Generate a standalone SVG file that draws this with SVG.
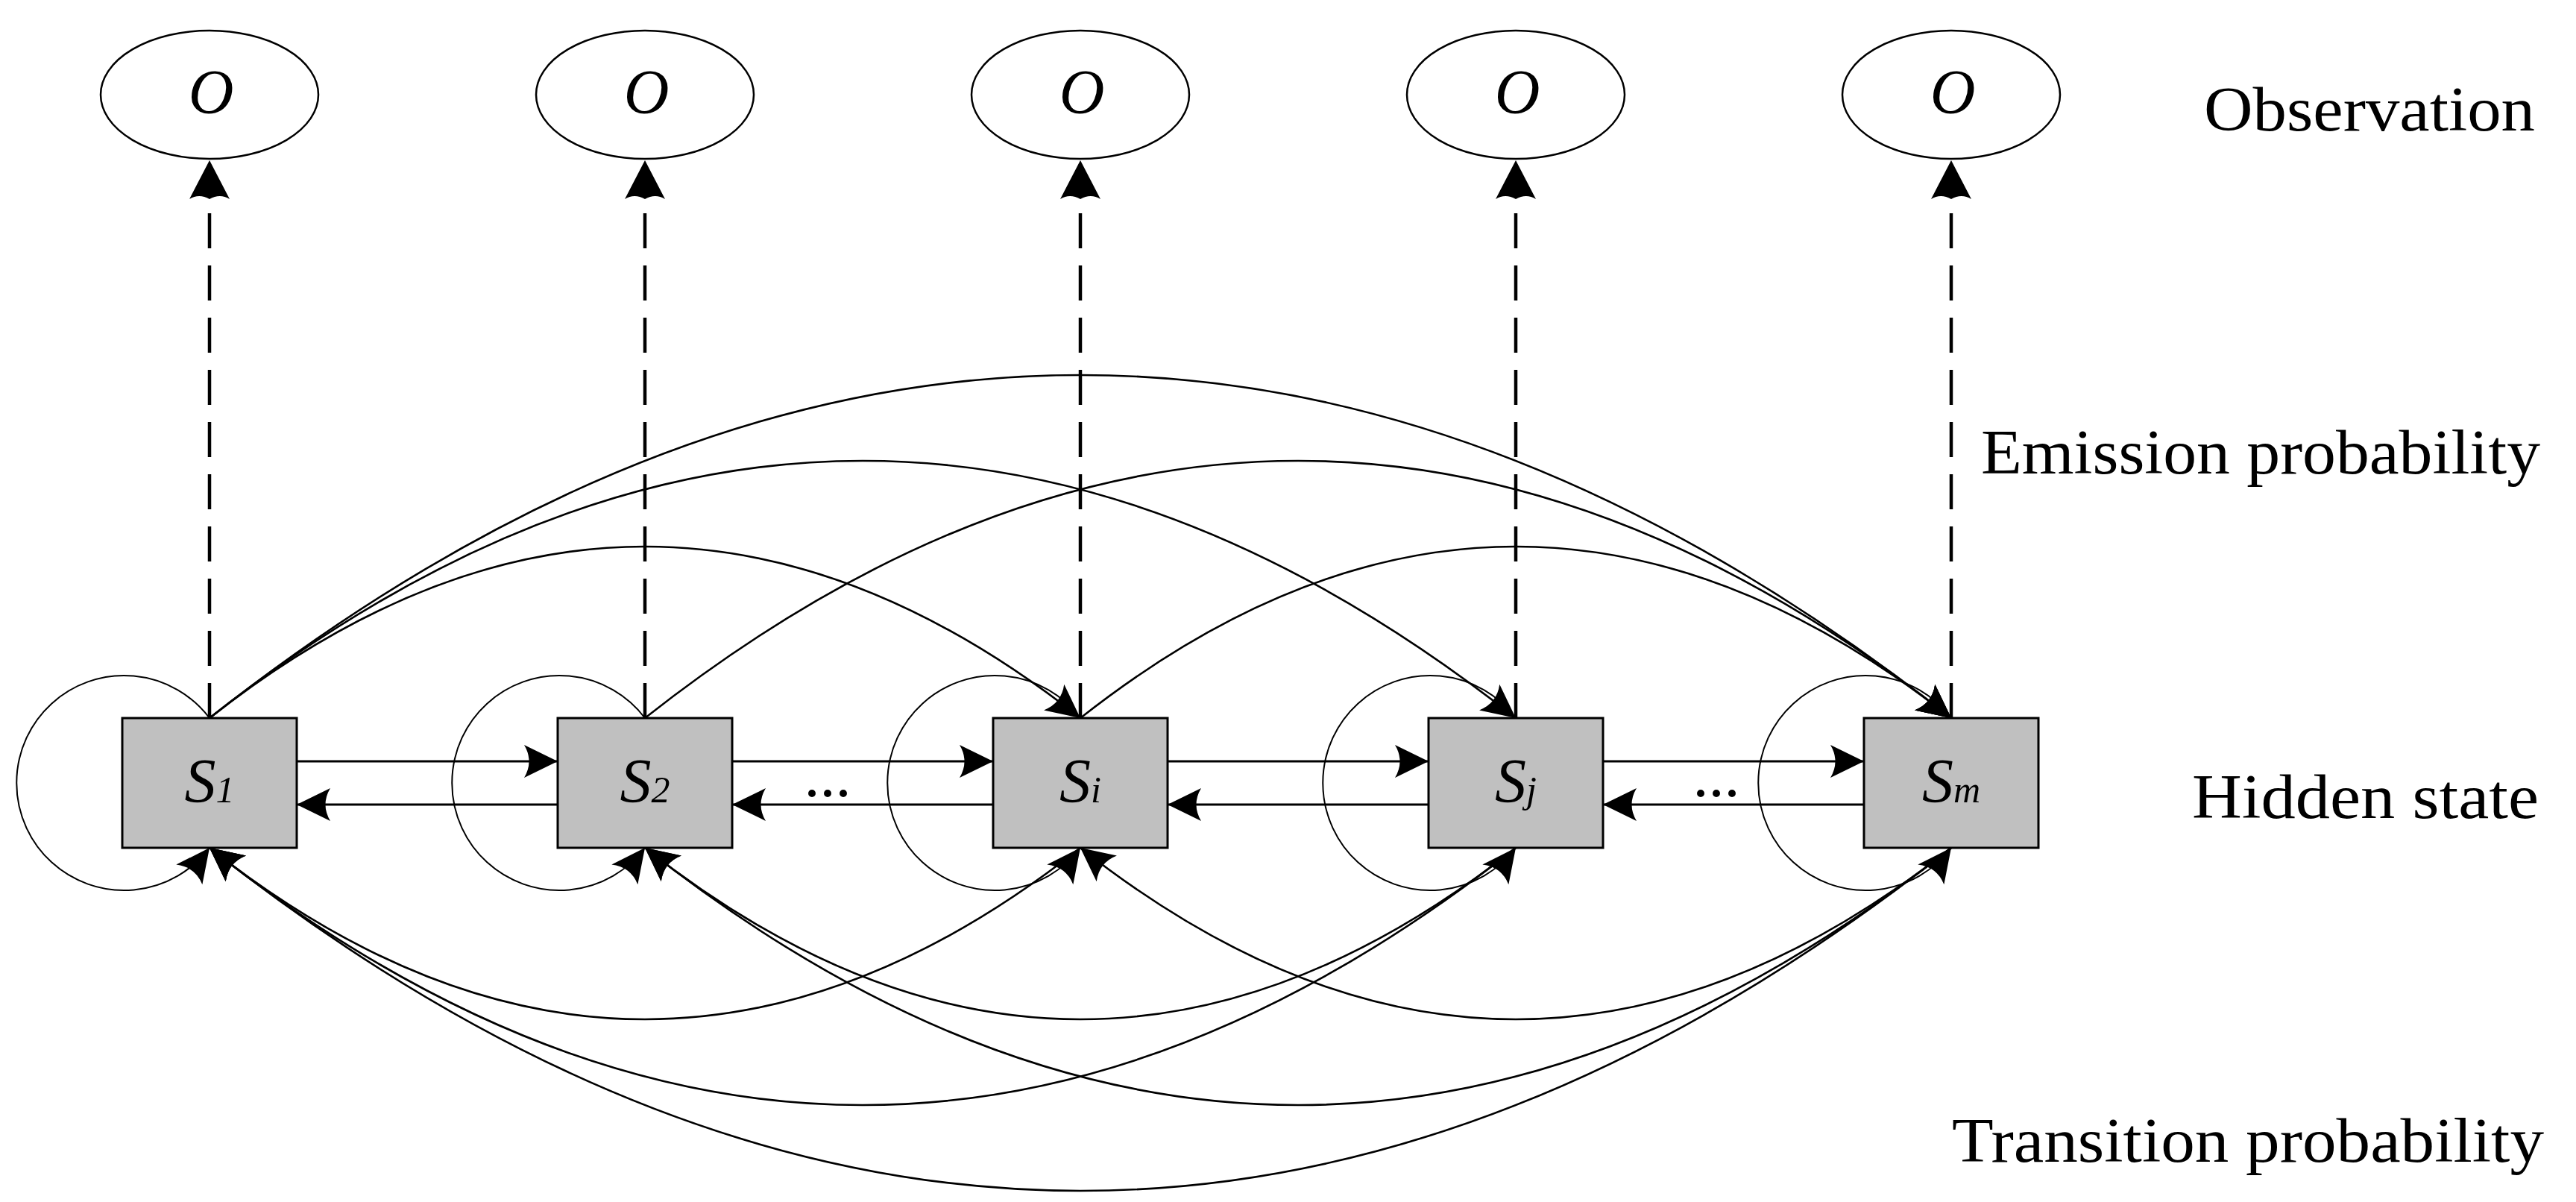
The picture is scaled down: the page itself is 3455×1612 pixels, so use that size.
<svg xmlns="http://www.w3.org/2000/svg" width="3455" height="1612" viewBox="0 0 3455 1612">
<style>
.box{fill:#c0c0c0;stroke:#000;stroke-width:3}
.obs{fill:#fff;stroke:#000;stroke-width:2.5}
.lbl{font-family:"Liberation Serif",serif;font-style:italic;font-size:84px;fill:#000}
.sub{font-size:50px}
.cap{font-family:"Liberation Serif",serif;font-size:84px;fill:#000}
.emit{fill:none;stroke:#000;stroke-width:4.5;stroke-dasharray:47 23;marker-end:url(#ahE)}
.arc{fill:none;stroke:#000;stroke-width:2.6;marker-end:url(#ah)}
.loop{fill:none;stroke:#000;stroke-width:2;marker-end:url(#ah)}
.harr{fill:none;stroke:#000;stroke-width:3;marker-end:url(#ah)}
</style>
<defs>
<marker id="ah" markerUnits="userSpaceOnUse" markerWidth="50" markerHeight="50" refX="45" refY="22" orient="auto" overflow="visible">
<path d="M45,22 L0,0 Q13,22 0,44 Z" fill="#000"/>
</marker>
<marker id="ahE" markerUnits="userSpaceOnUse" markerWidth="60" markerHeight="60" refX="2" refY="27" orient="auto" overflow="visible">
<path d="M52,27 L0,0 Q8,13 0,27 Q8,41 0,54 Z" fill="#000"/>
</marker>
</defs>

<g id="connectors">
<!-- emission (dashed) -->
<path class="emit" d="M281,963 V265"/>
<path class="emit" d="M865,963 V265"/>
<path class="emit" d="M1449,963 V265"/>
<path class="emit" d="M2033,963 V265"/>
<path class="emit" d="M2617,963 V265"/>
<!-- self loops -->
<path class="loop" d="M281,963 A144,144 0 1 0 281,1137"/>
<path class="loop" d="M865,963 A144,144 0 1 0 865,1137"/>
<path class="loop" d="M1449,963 A144,144 0 1 0 1449,1137"/>
<path class="loop" d="M2033,963 A144,144 0 1 0 2033,1137"/>
<path class="loop" d="M2617,963 A144,144 0 1 0 2617,1137"/>
<!-- adjacent forward / backward -->
<path class="harr" d="M398,1021 H748"/>
<path class="harr" d="M748,1079 H398"/>
<path class="harr" d="M982,1021 H1332"/>
<path class="harr" d="M1332,1079 H982"/>
<path class="harr" d="M1566,1021 H1916"/>
<path class="harr" d="M1916,1079 H1566"/>
<path class="harr" d="M2150,1021 H2500"/>
<path class="harr" d="M2500,1079 H2150"/>
<!-- upper arcs -->
<path class="arc" d="M281,963 Q1449,43 2617,963"/>
<path class="arc" d="M281,963 Q1157,273 2033,963"/>
<path class="arc" d="M865,963 Q1741,273 2617,963"/>
<path class="arc" d="M281,963 Q865,503 1449,963"/>
<path class="arc" d="M1449,963 Q2033,503 2617,963"/>
<!-- lower arcs -->
<path class="arc" d="M2617,1137 Q1449,2057 281,1137"/>
<path class="arc" d="M2033,1137 Q1157,1827 281,1137"/>
<path class="arc" d="M2617,1137 Q1741,1827 865,1137"/>
<path class="arc" d="M1449,1137 Q865,1597 281,1137"/>
<path class="arc" d="M2033,1137 Q1449,1597 865,1137"/>
<path class="arc" d="M2617,1137 Q2033,1597 1449,1137"/>
<text class="lbl" style="font-style:normal" font-size="72" x="1110" y="1068" text-anchor="middle">...</text>
<text class="lbl" style="font-style:normal" font-size="72" x="2302" y="1068" text-anchor="middle">...</text>
</g>

<g id="obs1"><ellipse class="obs" cx="281" cy="127" rx="146" ry="86"/><text class="lbl" x="283" y="152" text-anchor="middle">O</text></g>
<g id="obs2"><ellipse class="obs" cx="865" cy="127" rx="146" ry="86"/><text class="lbl" x="867" y="152" text-anchor="middle">O</text></g>
<g id="obs3"><ellipse class="obs" cx="1449" cy="127" rx="146" ry="86"/><text class="lbl" x="1451" y="152" text-anchor="middle">O</text></g>
<g id="obs4"><ellipse class="obs" cx="2033" cy="127" rx="146" ry="86"/><text class="lbl" x="2035" y="152" text-anchor="middle">O</text></g>
<g id="obs5"><ellipse class="obs" cx="2617" cy="127" rx="146" ry="86"/><text class="lbl" x="2619" y="152" text-anchor="middle">O</text></g>

<g id="s1"><rect class="box" x="164" y="963" width="234" height="174"/><text class="lbl" x="281" y="1076" text-anchor="middle">S<tspan class="sub">1</tspan></text></g>
<g id="s2"><rect class="box" x="748" y="963" width="234" height="174"/><text class="lbl" x="865" y="1076" text-anchor="middle">S<tspan class="sub">2</tspan></text></g>
<g id="si"><rect class="box" x="1332" y="963" width="234" height="174"/><text class="lbl" x="1449" y="1076" text-anchor="middle">S<tspan class="sub">i</tspan></text></g>
<g id="sj"><rect class="box" x="1916" y="963" width="234" height="174"/><text class="lbl" x="2033" y="1076" text-anchor="middle">S<tspan class="sub">j</tspan></text></g>
<g id="sm"><rect class="box" x="2500" y="963" width="234" height="174"/><text class="lbl" x="2617" y="1076" text-anchor="middle">S<tspan class="sub">m</tspan></text></g>

<g id="captions">
<text class="cap" x="2956" y="175" textLength="444" lengthAdjust="spacingAndGlyphs">Observation</text>
<text class="cap" x="2657" y="635" textLength="750" lengthAdjust="spacingAndGlyphs">Emission probability</text>
<text class="cap" x="2940" y="1097" textLength="465" lengthAdjust="spacingAndGlyphs">Hidden state</text>
<text class="cap" x="2618" y="1558" textLength="794" lengthAdjust="spacingAndGlyphs">Transition probability</text>
</g>
</svg>
